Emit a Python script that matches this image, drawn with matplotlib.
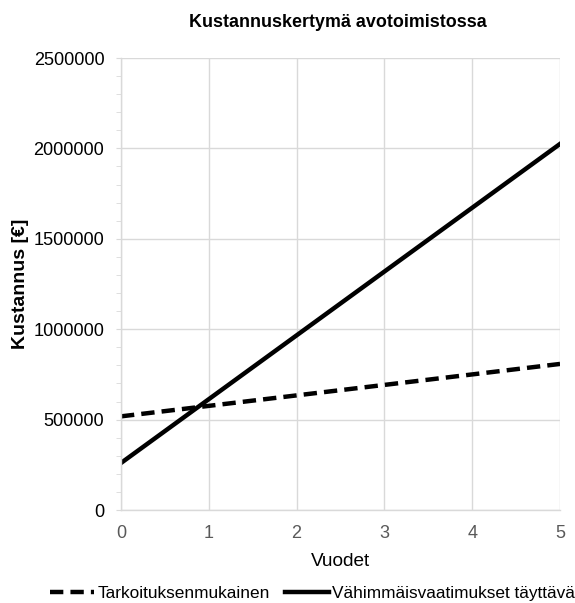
import numpy as np
import matplotlib.pyplot as plt
from matplotlib.ticker import MultipleLocator

plt.rcParams['font.family'] = ['Liberation Sans', 'DejaVu Sans']

# data
years = [0, 1, 2, 3, 4, 5]
tarkoituksen = [518000, 576000, 634000, 692000, 750000, 808000]
vahimmais = [260000, 613000, 966000, 1319000, 1672000, 2025000]

fig = plt.figure(figsize=(5.75, 6.03), dpi=100)
ax = fig.add_axes([0.2104, 0.1542, 0.7636, 0.7496])

ax.plot(years, tarkoituksen, color='black', lw=3.2, ls=(0, (3, 1.6)), label='Tarkoituksenmukainen')
ax.plot(years, vahimmais, color='black', lw=3.2, label='Vähimmäisvaatimukset täyttävä')

ax.set_xlim(0, 5)
ax.set_ylim(0, 2500000)
ax.yaxis.set_major_locator(MultipleLocator(500000))
ax.yaxis.set_minor_locator(MultipleLocator(100000))
ax.xaxis.set_major_locator(MultipleLocator(1))
ax.ticklabel_format(axis='y', style='plain', useOffset=False)

grid_c = '#d9d9d9'
ax.grid(True, which='major', color=grid_c, lw=1)
ax.set_axisbelow(True)
for s in ['top', 'right']:
    ax.spines[s].set_visible(False)
for s in ['left', 'bottom']:
    ax.spines[s].set_color(grid_c)
    ax.spines[s].set_linewidth(1)

ax.tick_params(axis='y', which='major', length=3.5, color=grid_c, labelsize=13.1, labelcolor='black', pad=8.5)
ax.tick_params(axis='y', which='minor', length=3.5, color=grid_c)
ax.tick_params(axis='x', which='major', length=0, labelsize=13, labelcolor='#595959', pad=11)

ax.set_xlabel('Vuodet', fontsize=13.7, labelpad=8)
ax.set_ylabel('Kustannus [€]', fontsize=14, fontweight='bold', labelpad=3)
fig.text(0.588, 0.9635, 'Kustannuskertymä avotoimistossa', ha='center', va='center',
         fontsize=12.9, fontweight='bold')

leg = fig.legend(loc='center right', bbox_to_anchor=(1.0, 0.015), ncol=2, frameon=False,
                 fontsize=12.4, handlelength=2.55, handletextpad=0.2, columnspacing=0.87,
                 borderaxespad=0, borderpad=0)

fig.savefig('out.png', dpi=100)
